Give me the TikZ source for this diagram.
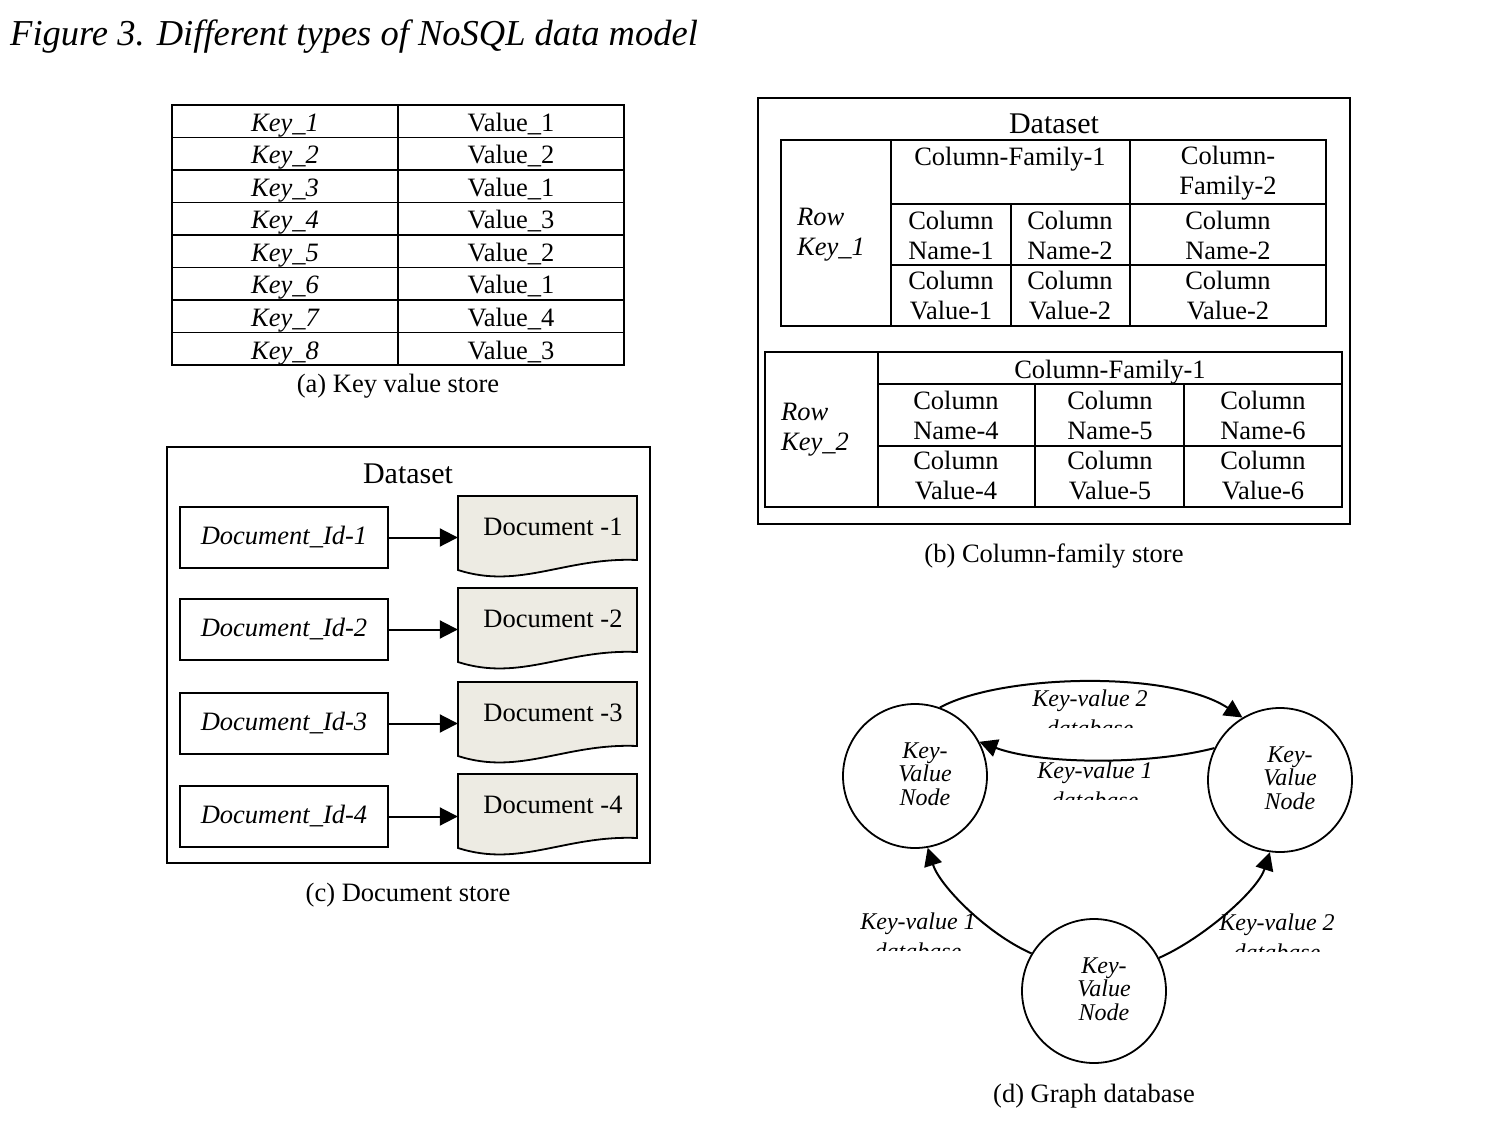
\documentclass[tikz,border=0pt]{standalone}
\usepackage{fontspec}
\setmainfont{Liberation Serif}
\usetikzlibrary{arrows.meta}
\definecolor{docfill}{HTML}{EDEBE3}
\begin{document}
\begin{tikzpicture}[x=1pt,y=-1pt,
	txt/.style={font=\fontsize{26.5}{30}\selectfont, inner sep=0pt},
	ktxt/.style={font=\fontsize{26.5}{30}\selectfont\itshape, inner sep=0pt},
	cell/.style={txt, align=center},
	lbl/.style={font=\fontsize{24}{28}\selectfont\itshape, inner sep=0pt, anchor=base},
	grid/.style={line width=1.3pt},
	frame/.style={line width=1.6pt},
	arr/.style={line width=2pt, -{Triangle[length=18pt,width=18pt]}},
	idbox/.style={ktxt, draw, line width=1.6pt, minimum width=208pt, minimum height=61pt},
	doctxt/.style={txt, minimum width=179pt, minimum height=64pt},
	docshape/.style={line width=1.8pt, fill=docfill},
	kvnode/.style={circle, draw, line width=1.8pt, minimum size=144pt, inner sep=0pt},
	kvtxt/.style={align=center, inner sep=0pt, font=\fontsize{24}{23.5}\selectfont\itshape}]
	\path[use as bounding box, fill=white] (0,0) rectangle (1500,1134);
	\node[anchor=base west, inner sep=0pt, font=\fontsize{36.5}{40}\selectfont\itshape] (title) at (10,46) {Figure 3. Different types of NoSQL data model};

	\draw[grid] (172,105) rectangle (624,365);
	\draw[grid] (398,105) -- (398,365);
	\foreach \i in {1,...,7}
		\draw[grid] (172,{105+32.5*\i}) -- (624,{105+32.5*\i});
	\foreach \i/\v in {1/1,2/2,3/1,4/3,5/2,6/1,7/4,8/3}{
		\node[ktxt, anchor=base] (k\i) at (285,{105+32.5*(\i-1)+26.5}) {Key\_\i};
		\node[txt, anchor=base] (v\i) at (511,{105+32.5*(\i-1)+26.5}) {Value\_\v};
	}
	\node[txt, anchor=base] (capa) at (398,392) {(a) Key value store};

	\draw[frame] (758,98) rectangle (1350,524);
	\node[txt, anchor=base, font=\fontsize{30}{34}\selectfont] (ds2) at (1054,134) {Dataset};
	\draw[grid] (781,140) rectangle (1326,326);
	\draw[grid] (891,140) -- (891,326) (1130,140) -- (1130,326) (1011,204) -- (1011,326);
	\draw[grid] (891,204) -- (1326,204) (891,265) -- (1326,265);
	\node[txt, anchor=base] (cf1) at (1010,166) {Column-Family-1};
	\node[cell] (cf2) at (1228,173) {Column-\\Family-2};
	\node[ktxt, align=left, anchor=west] (rk1) at (797,235) {Row\\Key\_1};
	\foreach \n/\x/\c in {1/951/1,2/1070/2,3/1228/2}{
		\node[cell] (cn\n) at (\x,235) {Column\\Name-\c};
		\node[cell] (cv\n) at (\x,296) {Column\\Value-\c};
	}
	\draw[grid] (765,352) rectangle (1342,507);
	\draw[grid] (878,352) -- (878,507) (878,384) -- (1342,384) (878,446) -- (1342,446);
	\draw[grid] (1035,384) -- (1035,507) (1184,384) -- (1184,507);
	\node[txt, anchor=base] (cf3) at (1110,378) {Column-Family-1};
	\node[ktxt, align=left, anchor=west] (rk2) at (781,430) {Row\\Key\_2};
	\foreach \n/\x in {4/956,5/1110,6/1263}{
		\node[cell] (cn\n) at (\x,415) {Column\\Name-\n};
		\node[cell] (cv\n) at (\x,476) {Column\\Value-\n};
	}
	\node[txt, anchor=base] (capb) at (1054,562) {(b) Column-family store};

	\draw[frame] (167,447) rectangle (650,863);
	\node[txt, anchor=base, font=\fontsize{30}{34}\selectfont] (ds1) at (408,483) {Dataset};
	\foreach \i/\y/\t in {1/537.5/496,2/629.5/588,3/723.5/682,4/816.5/774}{
		\node[idbox] (id\i) at (284,\y) {Document\_Id-\i};
		\draw[docshape] (458,\t) -- (637,\t) -- (637,{\t+64}) .. controls +(-72,-3) and +(62,20) .. (458,{\t+74}) -- cycle;
		\node[doctxt, label={[txt, xshift=5.5pt, yshift=1pt]center:Document -\i}] (doc\i) at (547.5,{\t+32}) {};
		\draw[arr] (id\i.east) -- (id\i.east -| doc\i.west);
	}
	\node[txt, anchor=base] (capc) at (408,901) {(c) Document store};

	\node[kvnode] (kv1) at (915,776) {};
	\node[kvnode] (kv2) at (1280,780) {};
	\node[kvnode] (kv3) at (1094,991) {};
	\foreach \n in {1,2,3}
		\node[kvtxt] (kt\n) at ([xshift=10pt,yshift=2pt]kv\n.center) {Key-\\Value\\Node};
	\draw[arr] (kv1.70) .. controls +(60,-33) and +(-73,-48) .. (kv2.121);
	\draw[arr] (kv2.154) .. controls +(-65,17) and +(62,23) .. (kv1.28);
	\draw[arr] (kv3.149) .. controls +(-45,-20) and +(12,38) .. (kv1.280);
	\draw[arr] (kv3.27) .. controls +(45,-20) and +(-12,38) .. (kv2.262);
	\foreach \n/\x/\y/\k in {a/1090/706/2,b/1095/778/1,c/918/929/1,d/1277/930/2}{
		\node[lbl] (lab\n) at (\x,\y) {Key-value \k};
		\begin{scope}
			\clip (\x-70,\y-30) rectangle (\x+70,\y+21);
			\node[lbl] (db\n) at (\x,\y+30) {database};
		\end{scope}
	}
	\node[txt, anchor=base] (capd) at (1094,1102) {(d) Graph database};
\end{tikzpicture}
\end{document}
